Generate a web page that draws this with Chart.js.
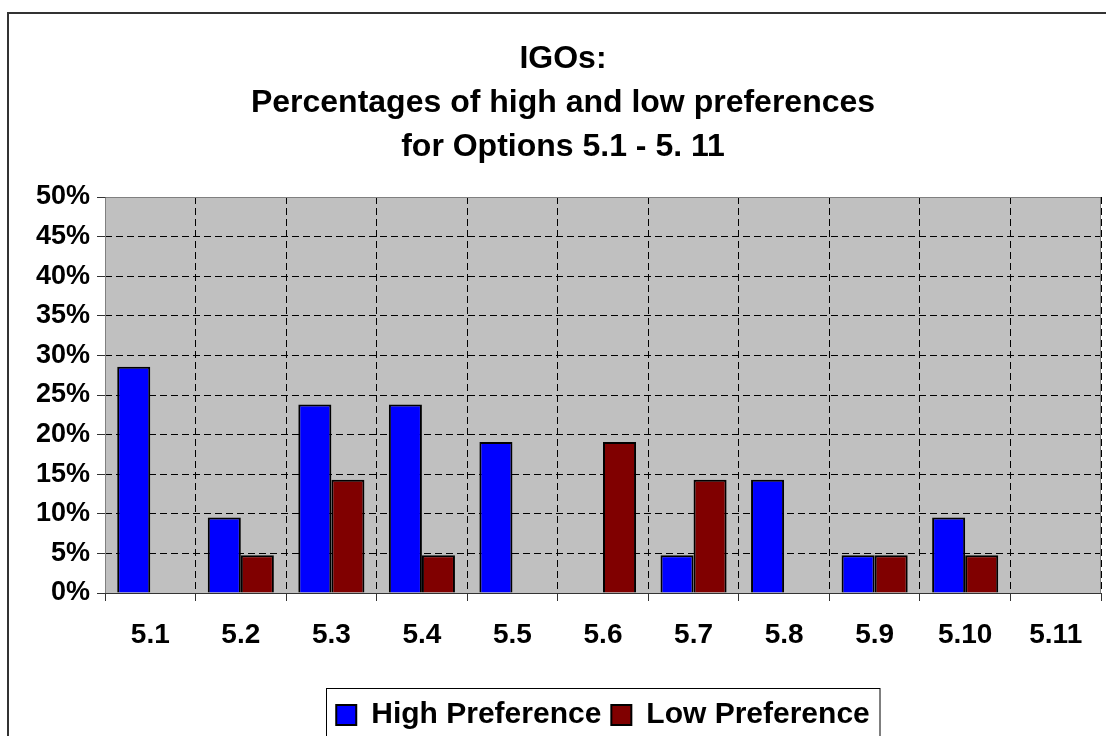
<!DOCTYPE html>
<html>
<head>
<meta charset="utf-8">
<title>IGOs preferences</title>
<script src="https://cdn.jsdelivr.net/npm/chart.js@4.4.1/dist/chart.umd.min.js"></script>
<style>
  html, body { margin: 0; padding: 0; background: #fff; overflow: hidden; }
  #wrap { position: relative; width: 1126px; height: 760px; }
</style>
</head>
<body>
<div id="wrap"><canvas id="prefChart" width="1126" height="760"></canvas></div>
<script>
  const optionLabels = ["5.1", "5.2", "5.3", "5.4", "5.5", "5.6", "5.7", "5.8", "5.9", "5.10", "5.11"];
  // percentages of 21 responses
  const highPreference = [28.57, 9.52, 23.81, 23.81, 19.05, 0, 4.76, 14.29, 4.76, 9.52, 0];
  const lowPreference = [0, 4.76, 14.29, 4.76, 0, 19.05, 14.29, 0, 4.76, 4.76, 0];
  const titleLines = ["IGOs:", "Percentages of high and low preferences", "for Options 5.1 - 5. 11"];
  const yMax = 50;
  const yStep = 5;

  const FONT = "'Liberation Sans', Arial, Helvetica, sans-serif";

  // white page, outer frame and grey plot background
  const backdrop = {
    id: "backdrop",
    beforeDraw(chart) {
      const { ctx, chartArea: a, width, height } = chart;
      ctx.save();
      ctx.fillStyle = "#ffffff";
      ctx.fillRect(0, 0, width, height);
      ctx.strokeStyle = "#333333";
      ctx.lineWidth = 2;
      ctx.strokeRect(8, 13, width - 16, height + 20);
      ctx.fillStyle = "#c0c0c0";
      ctx.fillRect(a.left, a.top, a.right - a.left, a.bottom - a.top);
      ctx.restore();
    },
  };

  // solid plot edges drawn over the dashed grid, under the bars
  const plotEdges = {
    id: "plotEdges",
    beforeDatasetsDraw(chart) {
      const { ctx, chartArea: a } = chart;
      const l = Math.round(a.left) + 0.5;
      const r = Math.round(a.right) - 0.5;
      const t = Math.round(a.top) + 0.5;
      const b = Math.round(a.bottom) + 0.5;
      ctx.save();
      ctx.lineWidth = 1;
      ctx.strokeStyle = "#808080";
      ctx.beginPath();
      ctx.moveTo(l, b);
      ctx.lineTo(l, t);
      ctx.lineTo(r, t);
      ctx.lineTo(r, b);
      ctx.stroke();
      ctx.strokeStyle = "#333333";
      ctx.beginPath();
      ctx.moveTo(l, b);
      ctx.lineTo(r, b);
      ctx.stroke();
      ctx.restore();
    },
  };

  // box around the legend items
  const legendBox = {
    id: "legendBox",
    afterDraw(chart) {
      const boxes = chart.legend && chart.legend.legendHitBoxes;
      if (!boxes || !boxes.length) return;
      const left = Math.min(...boxes.map((h) => h.left)) - 10;
      const right = Math.max(...boxes.map((h) => h.left + h.width)) + 10;
      const top = Math.min(...boxes.map((h) => h.top)) - 12;
      const { ctx } = chart;
      ctx.save();
      ctx.strokeStyle = "#000000";
      ctx.lineWidth = 1;
      ctx.strokeRect(Math.round(left) + 0.5, Math.round(top) + 0.5, right - left, 80);
      ctx.restore();
    },
  };

  const ctx = document.getElementById("prefChart").getContext("2d");
  new Chart(ctx, {
    type: "bar",
    data: {
      labels: optionLabels,
      datasets: [
        {
          label: "High Preference",
          data: highPreference,
          backgroundColor: "#0000ff",
          borderColor: "#000000",
          borderWidth: 2,
          borderSkipped: "bottom",
          barPercentage: 1,
          categoryPercentage: 0.73,
        },
        {
          label: "Low Preference",
          data: lowPreference,
          backgroundColor: "#800000",
          borderColor: "#000000",
          borderWidth: 2,
          borderSkipped: "bottom",
          barPercentage: 1,
          categoryPercentage: 0.73,
        },
      ],
    },
    options: {
      responsive: false,
      animation: false,
      devicePixelRatio: 1,
      layout: { padding: { left: 25, right: 25, top: 0, bottom: 20 } },
      plugins: {
        title: {
          display: true,
          text: titleLines,
          color: "#000000",
          font: { family: FONT, size: 32, weight: "bold", lineHeight: 1.375 },
          padding: { top: 37, bottom: 28 },
        },
        legend: {
          position: "bottom",
          fullSize: false,
          labels: {
            color: "#000000",
            font: { family: FONT, size: 30, weight: "bold" },
            boxWidth: 20,
            boxHeight: 20,
            padding: 10,
          },
        },
        tooltip: { enabled: false },
      },
      scales: {
        x: {
          afterFit(scale) { scale.height = 97; },
          grid: {
            offset: true,
            color: "#000000",
            lineWidth: 1,
            tickLength: 8,
            tickColor: "#333333",
            tickBorderDash: [],
          },
          border: { display: false, dash: [7, 4] },
          ticks: {
            color: "#000000",
            font: { family: FONT, size: 28, weight: "bold" },
            padding: 17,
            maxRotation: 0,
          },
        },
        y: {
          min: 0,
          max: yMax,
          afterFit(scale) { scale.width = 80; },
          grid: {
            color: "#000000",
            lineWidth: 1,
            tickLength: 8,
            tickColor: "#333333",
            tickBorderDash: [],
          },
          border: { display: false, dash: [7, 4] },
          ticks: {
            stepSize: yStep,
            color: "#000000",
            font: { family: FONT, size: 27, weight: "bold" },
            padding: 7,
            callback: (v) => v + "%",
          },
        },
      },
    },
    plugins: [backdrop, plotEdges, legendBox],
  });
</script>
</body>
</html>
